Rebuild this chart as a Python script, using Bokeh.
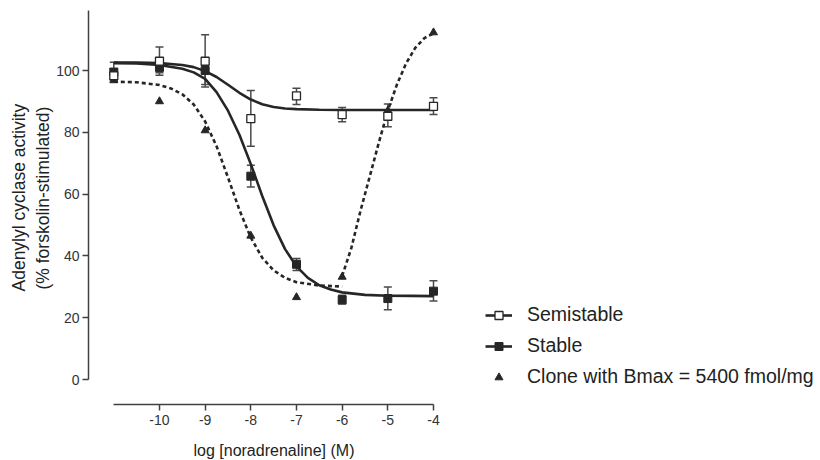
from bokeh.plotting import figure
from bokeh.models import (ColumnDataSource, Whisker, TeeHead, Legend, Title,
                          LegendItem, FixedTicker, Range1d)
from bokeh.core.properties import value
from bokeh.embed import file_html
from bokeh.resources import INLINE

# ---------------- data ----------------
log_conc = [-11, -10, -9, -8, -7, -6, -5, -4]
x_tick_values = [-10, -9, -8, -7, -6, -5, -4]
x_tick_labels = ["-10", "-9", "-8", "-7", "-6", "-5", "-4"]
y_tick_values = [0, 20, 40, 60, 80, 100]

semistable_mean = [98.3, 103.0, 103.0, 84.4, 91.8, 85.7, 85.2, 88.4]
semistable_upper = [100.5, 107.6, 111.6, 93.5, 94.3, 88.0, 89.2, 91.2]
semistable_lower = [96.5, 98.5, 94.7, 75.5, 89.0, 83.4, 81.8, 85.8]

stable_mean = [99.5, 101.0, 100.0, 65.8, 37.3, 25.8, 26.2, 28.6]
stable_upper = [102.7, 102.7, 102.0, 69.3, 39.2, 27.3, 29.9, 32.0]
stable_lower = [97.0, 99.3, 95.5, 62.3, 35.3, 24.4, 22.6, 25.4]

clone_conc = [-11, -10, -9, -8, -7, -6, -5, -4]
clone_value = [96.8, 90.0, 80.6, 46.5, 26.6, 33.2, 87.0, 112.3]

# fitted curves as drawn in the picture
semi_curve_x = [-11, -10.5, -10, -9.5, -9.25, -9, -8.75, -8.5, -8.25, -8,
                -7.75, -7.5, -7.25, -7, -6.5, -6, -5, -4]
semi_curve_y = [102.6, 102.55, 102.4, 101.8, 101.1, 99.8, 97.9, 95.4, 92.8, 90.6,
                89.1, 88.2, 87.7, 87.5, 87.3, 87.2, 87.2, 87.2]

stable_curve_x = [-11, -10.5, -10, -9.5, -9.25, -9, -8.75, -8.5, -8.25, -8,
                  -7.75, -7.5, -7.25, -7, -6.75, -6.5, -6.25, -6, -5.5, -5, -4.5, -4]
stable_curve_y = [102.4, 102.3, 101.8, 100.6, 99.4, 97.3, 93.0, 87.0, 79.2, 69.7,
                  59.4, 49.9, 42.2, 36.6, 32.9, 30.5, 29.1, 28.2, 27.4, 27.1, 27.05, 27.0]

clone_fall_x = [-11, -10.5, -10, -9.75, -9.5, -9.25, -9, -8.75, -8.5, -8.25,
                -8, -7.75, -7.5, -7.25, -7, -6.5, -6]
clone_fall_y = [96.4, 96.2, 95.3, 94.2, 92.3, 89.0, 83.5, 75.5, 65.4, 54.9,
                45.9, 39.4, 35.3, 32.9, 31.5, 30.4, 30.1]

clone_rise_x = [-6, -5.8, -5.6, -5.4, -5.2, -5.0, -4.8, -4.6, -4.4, -4.2, -4.0]
clone_rise_y = [33.5, 42.5, 54.5, 65.5, 76.5, 87.0, 95.5, 102.3, 107.3, 110.5, 112.0]

legend_labels = ["Semistable", "Stable", "Clone with Bmax = 5400 fmol/mg"]
y_title_lines = ["Adenylyl cyclase activity", "(% forskolin-stimulated)"]
x_title = "log [noradrenaline] (M)"

# ---------------- styling ----------------
FONT = "Liberation Sans"
INK = "#262626"
AXIS = "#404040"
BAR = "#4a4a4a"

p = figure(width=820, height=460,
           x_range=Range1d(-11.554, 4.364), y_range=Range1d(-8.09, 120.07),
           output_backend="svg", toolbar_location=None,
           min_border_left=88, min_border_right=5,
           min_border_top=8, min_border_bottom=56)
p.xgrid.visible = False
p.ygrid.visible = False
p.outline_line_color = None
p.background_fill_color = "white"
p.border_fill_color = "white"

# axes
xa = p.xaxis[0]
xa.bounds = (-11, -4)
xa.ticker = FixedTicker(ticks=x_tick_values)
xa.major_label_overrides = {v: s for v, s in zip(x_tick_values, x_tick_labels)}
xa.axis_label = " "
xa.axis_label_text_font_size = "1px"
xa.axis_label_standoff = 8
ya = p.yaxis[0]
ya.bounds = (0, 119.4)
ya.ticker = FixedTicker(ticks=y_tick_values)
for ax in (xa, ya):
    ax.axis_line_color = AXIS
    ax.axis_line_width = 1.5
    ax.major_tick_line_color = AXIS
    ax.major_tick_line_width = 1.5
    ax.major_tick_out = 6
    ax.major_tick_in = 0
    ax.minor_tick_line_color = None
    ax.major_label_text_font = FONT
    ax.major_label_text_font_size = "14px"
    ax.major_label_text_color = "#333333"
xa.major_label_standoff = 4
ya.major_label_standoff = 3

# axis titles as side-panel titles (positioned with align/offset)
p.add_layout(Title(text=y_title_lines[1], align="left", offset=115, standoff=2,
                   text_font=FONT, text_font_size="17.5px", text_font_style="normal",
                   text_color="#222222"), "left")
p.add_layout(Title(text=y_title_lines[0], align="left", offset=113, standoff=2,
                   text_font=FONT, text_font_size="17.5px", text_font_style="normal",
                   text_color="#222222"), "left")
p.add_layout(Title(text=x_title, align="left", offset=105, standoff=0,
                   text_font=FONT, text_font_size="16px", text_font_style="normal",
                   text_color="#222222"), "below")

# error bars
semi_src = ColumnDataSource(dict(x=log_conc, y=semistable_mean,
                                 upper=semistable_upper, lower=semistable_lower))
stable_src = ColumnDataSource(dict(x=log_conc, y=stable_mean,
                                   upper=stable_upper, lower=stable_lower))
clone_src = ColumnDataSource(dict(x=clone_conc, y=clone_value))

for src in (semi_src, stable_src):
    w = Whisker(source=src, base="x", upper="upper", lower="lower",
                dimension="height", line_color=BAR, line_width=1.5,
                upper_head=TeeHead(size=8, line_color=BAR, line_width=1.5),
                lower_head=TeeHead(size=8, line_color=BAR, line_width=1.5))
    p.add_layout(w)

# curves
semi_line = p.line(semi_curve_x, semi_curve_y, line_color=INK, line_width=2.6)
stable_line = p.line(stable_curve_x, stable_curve_y, line_color=INK, line_width=2.6)
p.line(clone_fall_x, clone_fall_y, line_color=INK, line_width=2.6, line_dash="4 3")
p.line(clone_rise_x, clone_rise_y, line_color=INK, line_width=2.6, line_dash="4 3")

# points
clone_pts = p.scatter("x", "y", source=clone_src, marker="triangle", size=8,
                      fill_color=INK, line_color=INK, line_width=1)
stable_pts = p.scatter("x", "y", source=stable_src, marker="square", size=8,
                       fill_color=INK, line_color=INK, line_width=1)
semi_pts = p.scatter("x", "y", source=semi_src, marker="square", size=8,
                     fill_color="white", line_color=INK, line_width=1.3)

# legend
legend = Legend(items=[
    LegendItem(label=value(legend_labels[0]), renderers=[semi_line, semi_pts]),
    LegendItem(label=value(legend_labels[1]), renderers=[stable_line, stable_pts]),
    LegendItem(label=value(legend_labels[2]), renderers=[clone_pts]),
], location=(397, 16), orientation="vertical",
    glyph_width=27, glyph_height=20, label_height=20, label_standoff=15,
    spacing=8, padding=0, margin=0, border_line_color=None,
    background_fill_alpha=0, label_text_font=FONT,
    label_text_font_size="19.5px", label_text_color="#222222")
p.add_layout(legend, "center")

open("out.html", "w").write(file_html(p, INLINE))
